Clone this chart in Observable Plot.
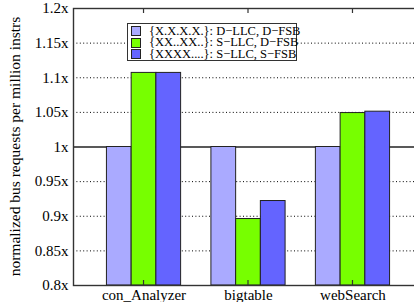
<!DOCTYPE html>
<html>
<head>
<meta charset="utf-8">
<script src="https://cdn.jsdelivr.net/npm/d3@7"></script>
<script src="https://cdn.jsdelivr.net/npm/@observablehq/plot@0.6"></script>
<style>
  html, body { margin: 0; padding: 0; background: white; overflow: hidden; }
  #wrap { position: relative; width: 414px; height: 302px; overflow: hidden; }
  #wrap, #wrap * , #wrap svg text { font-family: "Liberation Serif", "Times New Roman", "DejaVu Serif", serif !important; }
  #legend { position: absolute; left: 127px; top: 23px; width: 170px; height: 38px; border: 1.3px solid #333; background: white; font-size: 12.5px; color: #000; box-sizing: border-box; padding: 1.5px 0 0 3px; }
  #legend .row { display: flex; align-items: center; height: 11.5px; line-height: 11.5px; white-space: nowrap; }
  #legend .sw { width: 8px; height: 8px; border: 1px solid #222; margin-right: 8px; flex: none; }
</style>
</head>
<body>
<div id="wrap"></div>
<script>
const groups = ["con_Analyzer", "bigtable", "webSearch"];
const seriesLabels = ["{X.X.X.X.}: D\u2212LLC, D\u2212FSB", "{XX..XX..}: S\u2212LLC, D\u2212FSB", "{XXXX....}: S\u2212LLC, S\u2212FSB"];
const valuesDD = [1.0, 1.0, 1.0];
const valuesSD = [1.107, 0.896, 1.049];
const valuesSS = [1.107, 0.922, 1.051];
const seriesColors = ["#aaaaff", "#77ff00", "#6464ff"];
const yTicks = [0.8, 0.85, 0.9, 0.95, 1.0, 1.05, 1.1, 1.15, 1.2];
const yLabel = "normalized bus requests per million instrs";

const allValues = [valuesDD, valuesSD, valuesSS];
const data = [];
allValues.forEach((vals, j) => vals.forEach((v, i) => data.push({group: groups[i], series: seriesLabels[j], idx: j, value: v})));

const W = 414, H = 302, mL = 73, mR = -9, mT = 8, mB = 17;
const pIn = 0.29, pOut = 0.32;
const band = d3.scaleBand().domain(groups).range([mL, W - mR]).paddingInner(pIn).paddingOuter(pOut);
const sub = band.bandwidth() / 3;

const fmt = d => (d === 1 ? "1" : String(+d.toFixed(2))) + "x";

const barMarks = seriesLabels.map((s, j) =>
  Plot.barY(data.filter(d => d.idx === j), {
    x: "group", y1: 0.8, y2: "value", fill: "series",
    stroke: "#222", strokeWidth: 1,
    insetLeft: j * sub, insetRight: (2 - j) * sub
  })
);

const chart = Plot.plot({
  width: W, height: H,
  marginLeft: mL, marginRight: mR, marginTop: mT, marginBottom: mB,
  style: {fontSize: "15px", color: "#000", background: "white", overflow: "hidden"},
  x: {domain: groups, paddingInner: pIn, paddingOuter: pOut, round: false},
  y: {domain: [0.8, 1.2]},
  color: {domain: seriesLabels, range: seriesColors},
  marks: [
    Plot.ruleY(yTicks.filter(t => t !== 1), {stroke: "#000", strokeWidth: 1, strokeDasharray: "1,2.4"}),
    Plot.ruleY([1], {stroke: "#222", strokeWidth: 1.3}),
    ...barMarks,
    Plot.axisY(yTicks, {tickSize: 0, tickPadding: 5, tickFormat: fmt, label: null, fontSize: 15}),
    Plot.axisX({tickSize: 0, tickPadding: 4, label: null, fontSize: 15}),
    Plot.frame({stroke: "#333", strokeWidth: 1.4})
  ]
});

const wrap = document.getElementById("wrap");
wrap.appendChild(chart);

const svg = d3.select(chart);
// y-axis title
svg.append("text")
  .attr("transform", `translate(14,${(mT + (H - mB)) / 2}) rotate(-90)`)
  .attr("text-anchor", "middle")
  .attr("dominant-baseline", "central")
  .style("font-size", "15.5px")
  .text(yLabel);

// inward tick marks at group centers (top and bottom)
groups.forEach(g => {
  const cx = band(g) + band.bandwidth() / 2;
  svg.append("line").attr("x1", cx).attr("x2", cx).attr("y1", mT).attr("y2", mT + 5).attr("stroke", "#333").attr("stroke-width", 1.2);
  svg.append("line").attr("x1", cx).attr("x2", cx).attr("y1", H - mB).attr("y2", H - mB - 5).attr("stroke", "#333").attr("stroke-width", 1.2);
});

// legend
const legend = document.createElement("div");
legend.id = "legend";
seriesLabels.forEach((s, j) => {
  const row = document.createElement("div");
  row.className = "row";
  const sw = document.createElement("div");
  sw.className = "sw";
  sw.style.background = seriesColors[j];
  const t = document.createElement("span");
  t.textContent = s;
  row.appendChild(sw);
  row.appendChild(t);
  legend.appendChild(row);
});
wrap.appendChild(legend);
</script>
</body>
</html>
